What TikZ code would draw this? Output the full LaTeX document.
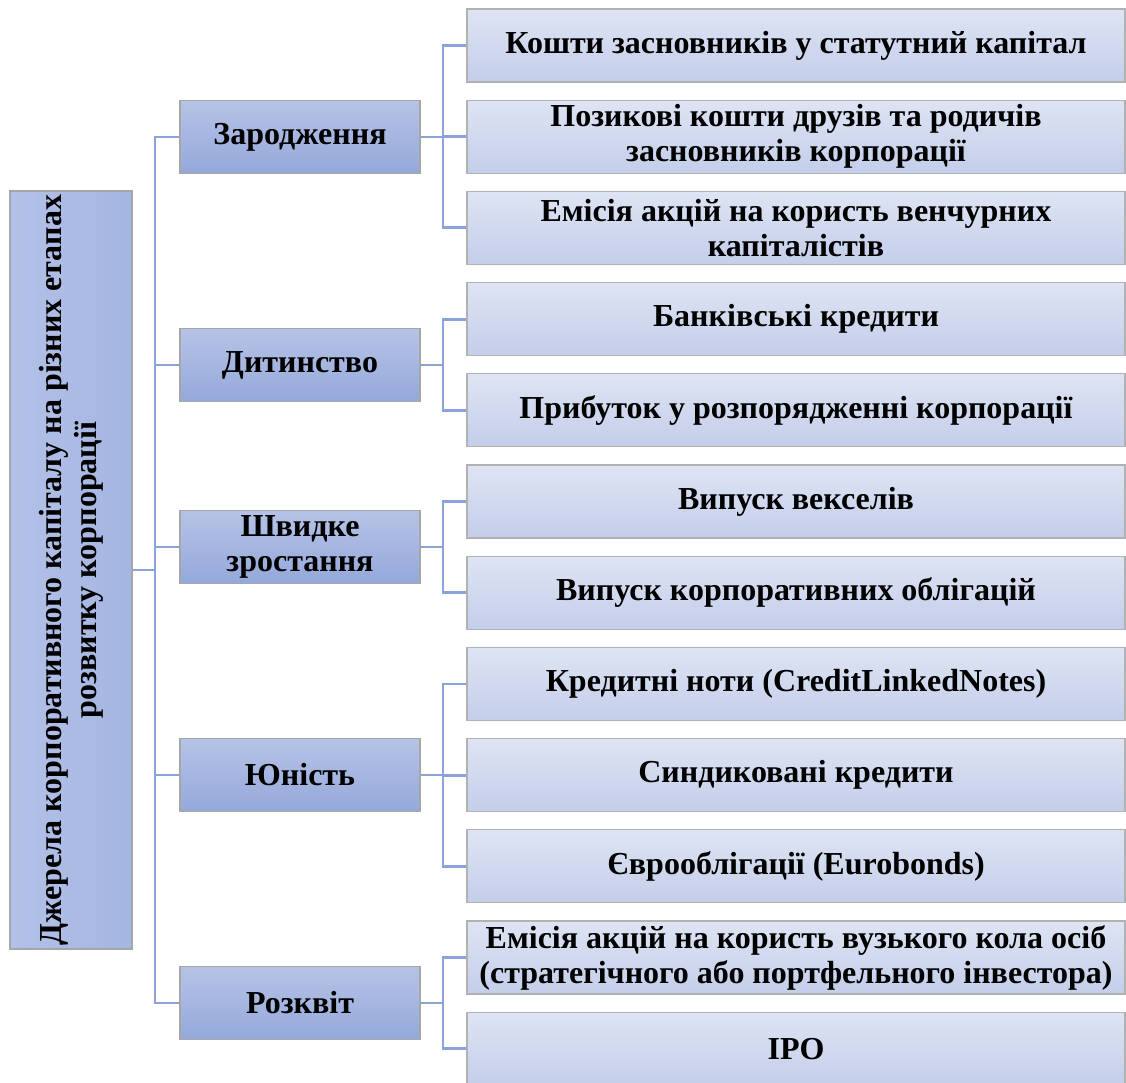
\documentclass[tikz,border=0pt]{standalone}
\usepackage{fontspec}
\setmainfont{Liberation Serif}
\begin{document}
\begin{tikzpicture}[x=1pt,y=-1pt,
  every node/.style={font=\fontsize{32}{35}\selectfont\bfseries, align=center, inner sep=1pt},
  rootbox/.style={draw=black!35, line width=1.2pt, left color=rootL, right color=rootR, rotate=90, minimum width=758pt, minimum height=122pt},
  stagebox/.style={draw=black!35, line width=1.2pt, top color=stT, bottom color=stB, minimum width=240pt, minimum height=73pt},
  itembox/.style={draw=black!30, line width=1.2pt, top color=itT, bottom color=itB, minimum width=658pt, minimum height=73pt},
  conn/.style={draw=lineC, line width=2.8pt}
]
\definecolor{rootL}{HTML}{B3C1E7}
\definecolor{rootR}{HTML}{A4B5E1}
\definecolor{stT}{HTML}{B6C3E6}
\definecolor{stB}{HTML}{94A8DA}
\definecolor{itT}{HTML}{DEE4F3}
\definecolor{itB}{HTML}{C4CEEA}
\definecolor{lineC}{HTML}{8BA3DB}
\useasboundingbox (0,0) rectangle (1126,1083);

\node[rootbox] (root) at (71,570) {Джерела корпоративного капіталу на різних етапах\\розвитку корпорації};

\node[stagebox] (s1) at (300,137) {Зародження};
\node[stagebox] (s2) at (300,365) {Дитинство};
\node[stagebox] (s3) at (300,547) {Швидке\\зростання};
\node[stagebox] (s4) at (300,775) {Юність};
\node[stagebox] (s5) at (300,1003) {Розквіт};

\node[itembox] (c1) at (796,45.5) {Кошти засновників у статутний капітал};
\node[itembox] (c2) at (796,136.7) {Позикові кошти друзів та родичів\\засновників корпорації};
\node[itembox] (c3) at (796,227.9) {Емісія акцій на користь венчурних\\капіталістів};
\node[itembox] (c4) at (796,319.1) {Банківські кредити};
\node[itembox] (c5) at (796,410.3) {Прибуток у розпорядженні корпорації};
\node[itembox] (c6) at (796,501.5) {Випуск векселів};
\node[itembox] (c7) at (796,592.7) {Випуск корпоративних облігацій};
\node[itembox] (c8) at (796,683.9) {Кредитні ноти (CreditLinkedNotes)};
\node[itembox] (c9) at (796,775.1) {Синдиковані кредити};
\node[itembox] (c10) at (796,866.3) {Єврооблігації (Eurobonds)};
\node[itembox] (c11) at (796,957.5) {Емісія акцій на користь вузького кола осіб\\(стратегічного або портфельного інвестора)};
\node[itembox] (c12) at (796,1048.7) {IPO};

\coordinate (t) at (155,0);
\coordinate (u) at (443,0);

\draw[conn] (root.south) -- (root.south -| t);
\foreach \s in {s1,s2,s3,s4,s5}
  \draw[conn] (\s.west) -- (\s.west -| t) |- (root.south);

\foreach \s/\c in {s1/c1,s1/c2,s1/c3,s2/c4,s2/c5,s3/c6,s3/c7,s4/c8,s4/c9,s4/c10,s5/c11,s5/c12}
  \draw[conn] (\s.east) -- (\s.east -| u) |- (\c.west);
\end{tikzpicture}
\end{document}
